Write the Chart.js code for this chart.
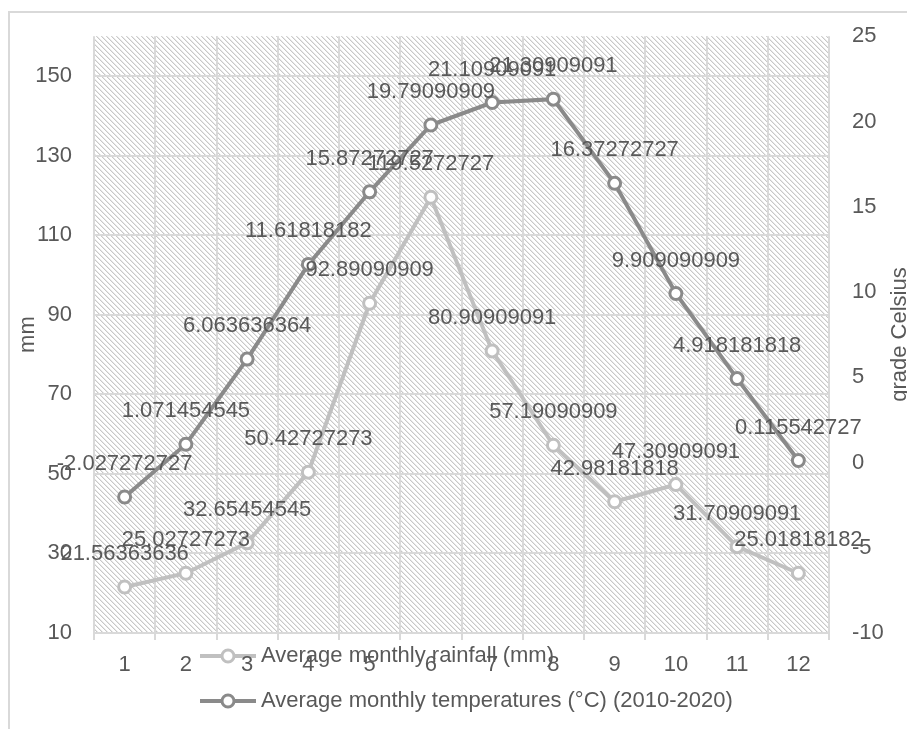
<!DOCTYPE html>
<html>
<head>
<meta charset="utf-8">
<script src="https://cdn.jsdelivr.net/npm/chart.js@4.4.1/dist/chart.umd.min.js"></script>
<style>
  html, body { margin: 0; padding: 0; background: #fff; }
  canvas { display: block; }
</style>
</head>
<body>
<canvas id="climaChart" width="907" height="729"></canvas>
<script>
// --- data ---
const months = ['1', '2', '3', '4', '5', '6', '7', '8', '9', '10', '11', '12'];
const rainfall = [21.56363636, 25.02727273, 32.65454545, 50.42727273, 92.89090909, 119.5272727,
                  80.90909091, 57.19090909, 42.98181818, 47.30909091, 31.70909091, 25.01818182];
const temperature = [-2.027272727, 1.071454545, 6.063636364, 11.61818182, 15.87272727, 19.79090909,
                     21.10909091, 21.30909091, 16.37272727, 9.909090909, 4.918181818, 0.115542727];
const mmTicks = [10, 30, 50, 70, 90, 110, 130, 150];
const celsiusTicks = [-10, -5, 0, 5, 10, 15, 20, 25];

const FONT = "'Liberation Sans', Arial, sans-serif";
const SIZE = 22;
const TEXT = '#595959';
const GRID = '#d9d9d9';
const RAIN = '#c0c0c0';
const TEMP = '#8a8a8a';

Chart.defaults.font.family = FONT;
Chart.defaults.font.size = SIZE;
Chart.defaults.color = TEXT;

// diagonal hatch for the plot area
const hatch = (() => {
    const n = 5;
    const c = document.createElement('canvas');
    c.width = n; c.height = n;
    const g = c.getContext('2d');
    g.fillStyle = '#fff';
    g.fillRect(0, 0, n, n);
    for (let i = 0; i < n; i++) {
        g.fillStyle = '#c8c8c8';
        g.fillRect(i, i, 1, 1);
        g.fillStyle = '#e8e8e8';
        g.fillRect((i + 1) % n, i, 1, 1);
    }
    return c;
})();

// legend symbol: short line with a hollow marker
function legendMark(color) {
    const c = document.createElement('canvas');
    c.width = 56; c.height = 18;
    const g = c.getContext('2d');
    g.strokeStyle = color;
    g.lineWidth = 4;
    g.beginPath(); g.moveTo(0, 9); g.lineTo(56, 9); g.stroke();
    g.beginPath(); g.arc(28, 9, 6, 0, Math.PI * 2);
    g.fillStyle = '#fff'; g.fill();
    g.lineWidth = 3; g.stroke();
    return c;
}
const marks = [legendMark(RAIN), legendMark(TEMP)];

const excelLook = {
    id: 'excelLook',
    beforeDraw(chart) {
        const { ctx, chartArea: a } = chart;
        ctx.save();
        ctx.fillStyle = '#fff';
        ctx.fillRect(0, 0, chart.width, chart.height);
        ctx.strokeStyle = GRID;
        ctx.lineWidth = 2;
        ctx.strokeRect(9, 12, chart.width + 10, chart.height + 10);
        ctx.fillStyle = ctx.createPattern(hatch, 'repeat');
        ctx.fillRect(a.left, a.top, a.right - a.left, a.bottom - a.top);
        ctx.restore();

        // legend sits over the category labels, like the original
        const lg = chart.legend;
        lg.left = 183; lg.right = 783;
        lg.top = 622; lg.bottom = 722;
    },
    afterDatasetsDraw(chart) {
        const ctx = chart.ctx;
        ctx.save();
        ctx.font = SIZE + 'px ' + FONT;
        ctx.fillStyle = TEXT;
        ctx.textAlign = 'center';
        ctx.textBaseline = 'middle';
        chart.data.datasets.forEach((ds, i) => {
            chart.getDatasetMeta(i).data.forEach((pt, j) => {
                ctx.fillText(String(ds.data[j]), pt.x, pt.y - 33);
            });
        });
        ctx.restore();
    },
    afterDraw(chart) {
        const ctx = chart.ctx;
        const a = chart.chartArea;
        ctx.save();
        ctx.font = SIZE + 'px ' + FONT;
        ctx.fillStyle = TEXT;
        ctx.textAlign = 'center';
        ctx.textBaseline = 'middle';
        ctx.translate(900, (a.top + a.bottom) / 2);
        ctx.rotate(-Math.PI / 2);
        ctx.fillText('grade Celsius', 0, 0);
        ctx.restore();
    }
};

new Chart(document.getElementById('climaChart'), {
    type: 'line',
    data: {
        labels: months,
        datasets: [{
            label: 'Average monthly rainfall (mm)',
            data: rainfall,
            yAxisID: 'y',
            borderColor: RAIN,
            borderWidth: 4,
            pointRadius: 6,
            pointBorderWidth: 3,
            pointBackgroundColor: '#fff',
            pointBorderColor: RAIN,
            tension: 0
        }, {
            label: 'Average monthly temperatures (°C) (2010-2020)',
            data: temperature,
            yAxisID: 'y1',
            borderColor: TEMP,
            borderWidth: 4,
            pointRadius: 6,
            pointBorderWidth: 3,
            pointBackgroundColor: '#fff',
            pointBorderColor: TEMP,
            tension: 0
        }]
    },
    options: {
        responsive: false,
        animation: false,
        events: [],
        layout: { padding: { top: 33, left: 0, right: 0, bottom: 0 } },
        plugins: {
            tooltip: { enabled: false },
            legend: {
                position: 'bottom',
                align: 'start',
                maxHeight: 10,
                labels: {
                    usePointStyle: true,
                    pointStyleWidth: 44,
                    padding: 23,
                    color: TEXT,
                    font: { size: SIZE },
                    generateLabels: chart => Chart.defaults.plugins.legend.labels.generateLabels(chart)
                        .map((item, i) => ({ ...item, pointStyle: marks[i] }))
                }
            }
        },
        scales: {
            x: {
                offset: true,
                grid: { offset: true, color: GRID, lineWidth: 2, tickLength: 7 },
                border: { color: GRID, width: 2 },
                ticks: { color: TEXT, padding: 12 },
                afterFit: s => { s.height = 86; }
            },
            y: {
                position: 'left',
                min: 10,
                max: 160,
                afterBuildTicks: s => { s.ticks = mmTicks.map(v => ({ value: v })); },
                grid: { color: GRID, lineWidth: 2, drawTicks: false },
                border: { display: false },
                ticks: { color: TEXT, padding: 22 },
                title: { display: true, text: 'mm', color: TEXT, font: { size: SIZE }, padding: { top: 15, bottom: 0 } },
                afterFit: s => { s.width = 94; }
            },
            y1: {
                position: 'right',
                min: -10,
                max: 25,
                afterBuildTicks: s => { s.ticks = celsiusTicks.map(v => ({ value: v })); },
                grid: { display: false, drawTicks: false },
                border: { display: false },
                ticks: { color: TEXT, padding: 23 },
                afterFit: s => { s.width = 78; }
            }
        }
    },
    plugins: [excelLook]
});
</script>
</body>
</html>
